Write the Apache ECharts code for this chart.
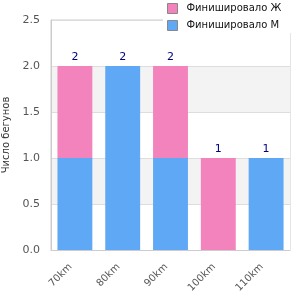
<!DOCTYPE html>
<html lang="ru">
<head>
    <meta charset="utf-8" />
    <title>ECharts</title>
    <script src="https://cdn.jsdelivr.net/npm/echarts@6/dist/echarts.min.js"></script>
    <style>html,body{margin:0;padding:0;background:#fff;}</style>
</head>
<body>
<div id="main" style="width: 300px;height:300px;"></div>
<script type="text/javascript">
    // категории и данные
    var categories = ['70km', '80km', '90km', '100km', '110km'];
    var menValues = [1, 2, 1, 0, 1];
    var womenValues = [1, 0, 1, 1, 0];
    var yTicks = [0, 0.5, 1.0, 1.5, 2.0, 2.5];

    var totals = categories.map(function (c, i) { return menValues[i] + womenValues[i]; });
    var font = 'DejaVu Sans';
    var labelStyle = { show: true, position: 'top', color: '#000080', fontSize: 11, fontFamily: font, distance: 3 };

    var myChart = echarts.init(document.getElementById('main'), null, {renderer: 'canvas'});

    var option = {
      animation: false,
      textStyle: { fontFamily: font },
      legend: {
        data: ['Финишировало Ж', 'Финишировало М'],
        orient: 'vertical',
        left: 163,
        top: 1,
        itemWidth: 10,
        itemHeight: 10,
        itemGap: 6,
        icon: 'rect',
        backgroundColor: '#fff',
        padding: [2, 10, 2, 4],
        z: 10,
        itemStyle: { borderColor: '#888', borderWidth: 1 },
        textStyle: { fontSize: 10, color: '#111', fontFamily: font, padding: [0, 0, 0, 4] }
      },
      grid: {
        left: 51, right: 10, top: 20, bottom: 50,
        outerBoundsMode: 'none',
        show: true, borderColor: '#ccc', borderWidth: 1
      },
      xAxis: {
        type: 'category',
        data: categories,
        axisLine: { lineStyle: { color: '#ccc' } },
        axisTick: { show: false },
        axisLabel: { rotate: 45, color: '#555', fontSize: 10, fontFamily: font, margin: 11, padding: [0, 6, 0, 0] }
      },
      yAxis: {
        type: 'value',
        min: yTicks[0],
        max: yTicks[yTicks.length - 1],
        interval: 0.5,
        name: 'Число бегунов',
        nameLocation: 'middle',
        nameGap: 40,
        nameTextStyle: { color: '#333', fontSize: 10, fontFamily: font },
        axisLine: { show: true, lineStyle: { color: '#ccc' } },
        axisLabel: {
          color: '#555', fontSize: 11, fontFamily: font, margin: 11,
          formatter: function (v) { return v.toFixed(1); }
        },
        splitLine: { lineStyle: { color: '#ddd' } },
        splitArea: { show: true, areaStyle: { color: ['#ffffff', '#f3f3f3'] } }
      },
      series: [
        {
          name: 'Финишировало М',
          type: 'bar',
          stack: 'total',
          barWidth: '73%',
          itemStyle: { color: '#5fa8f5' },
          data: menValues.map(function (v, i) {
            return { value: v, label: Object.assign({}, labelStyle, { show: womenValues[i] === 0, formatter: String(totals[i]) }) };
          })
        },
        {
          name: 'Финишировало Ж',
          type: 'bar',
          stack: 'total',
          barWidth: '73%',
          itemStyle: { color: '#f283bc' },
          data: womenValues.map(function (v, i) {
            return { value: v, label: Object.assign({}, labelStyle, { show: v > 0, formatter: String(totals[i]) }) };
          })
        }
      ]
    };
    myChart.setOption(option);
</script>
</body>
</html>
